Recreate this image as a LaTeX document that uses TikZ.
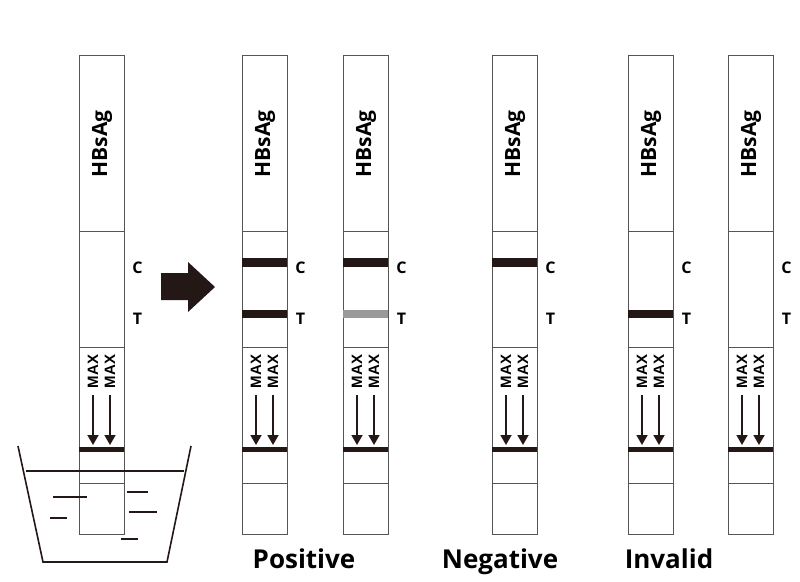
\documentclass[tikz,border=0pt]{standalone}
\usepackage{fontspec}
\setmainfont{Open Sans}
\newfontfamily\maxfont{Liberation Sans}
\usetikzlibrary{positioning,arrows.meta}
\definecolor{inkdark}{HTML}{231815}
\definecolor{edgegray}{HTML}{555555}
\definecolor{faintgray}{HTML}{9A9A9A}

\begin{document}
\begin{tikzpicture}[x=1pt,y=-1pt,
    strip/.style={draw=edgegray, line width=0.9pt, minimum width=45pt, minimum height=479pt, inner sep=0pt},
    idlbl/.style={rotate=90, inner sep=0pt, font=\bfseries\fontsize{21}{21}\selectfont},
    maxlbl/.style={rotate=90, inner sep=0pt, font=\maxfont\bfseries\fontsize{15}{15}\selectfont},
    zonelbl/.style={inner sep=0pt, font=\bfseries\fontsize{16}{16}\selectfont},
    result/.style={inner sep=0pt, anchor=base, font=\bfseries\fontsize{26}{26}\selectfont},
    flow/.style={-{Triangle[length=10pt,width=11pt]}, line width=1.8pt, draw=inkdark}]
    \useasboundingbox (0,0) rectangle (800,581);
    % test strips
    \foreach \n/\x/\cb/\tb in {s1/79/none/none, s2/242/inkdark/inkdark, s3/343/inkdark/faintgray,
        s4/492/inkdark/none, s5/628/none/inkdark, s6/728/none/none}{
        \node[strip] (\n) at (\x+22.5,294.5) {};
        \draw[edgegray, line width=0.9pt] (\x,231) -- ++(45,0);
        \draw[edgegray, line width=0.9pt] (\x,347) -- ++(45,0);
        \draw[edgegray, line width=0.9pt] (\x,483) -- ++(45,0);
        \path[fill=\cb] (\x,258) rectangle ++(45,9);
        \path[fill=\tb] (\x,310) rectangle ++(45,8);
        \fill[inkdark] (\x,446.5) rectangle ++(45,5);
        \node[idlbl] (\n-id) at (\x+23,144) {HBsAg};
        \node[zonelbl] (\n-c) at (\x+58.5,268) {C};
        \node[zonelbl] (\n-t) at (\x+58.5,319) {T};
        \node[maxlbl] (\n-ma) at (\x+14,371.5) {MAX};
        \node[maxlbl] (\n-mb) at (\x+31,371.5) {MAX};
        \coordinate (\n-base) at (\x+22.5,445);
        \draw[flow] ([yshift=-7pt]\n-ma.west) -- (\n-ma.west |- \n-base);
        \draw[flow] ([yshift=-7pt]\n-mb.west) -- (\n-mb.west |- \n-base);
    }
    % cup with sample
    \draw[inkdark, line width=1.6pt] (18,446) -- (43,562) -- (167,562) -- (191,446);
    \draw[inkdark, line width=1.2pt] (26,471) -- (184,471);
    \draw[inkdark, line width=1.2pt] (53,497) -- (87,497);
    \draw[inkdark, line width=1.2pt] (50,518) -- (67,518);
    \draw[inkdark, line width=1.2pt] (127,492) -- (148,492);
    \draw[inkdark, line width=1.2pt] (129,512) -- (157,512);
    \draw[inkdark, line width=1.2pt] (121,539) -- (138,539);
    % big arrow
    \fill[inkdark] (161,273) -- (188,273) -- (188,262) -- (215,287) -- (188,312) -- (188,300) -- (161,300) -- cycle;
    \node[result] (pos) at (304,568) {Positive};
    \node[result] (neg) at (500,568) {Negative};
    \node[result] (inv) at (669,568) {Invalid};
\end{tikzpicture}
\end{document}
